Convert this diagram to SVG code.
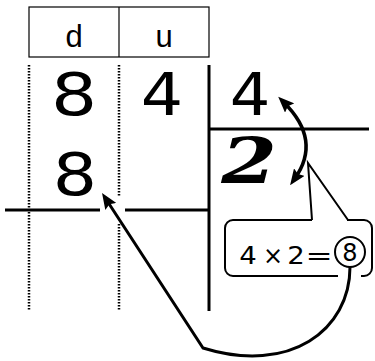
<svg xmlns="http://www.w3.org/2000/svg" width="375" height="361" viewBox="0 0 375 361">
<style>
.ln{stroke:#000;stroke-width:3;fill:none}
.thin{stroke:#000;stroke-width:1.2;fill:none}
.dot{stroke:#000;stroke-width:2.5;stroke-dasharray:1.5 1.5;fill:none}
.hd{font-family:"Liberation Sans",Arial,sans-serif;font-size:31px;text-anchor:middle}
.big{font-family:"DejaVu Sans",sans-serif;font-size:58px;text-anchor:middle}
.sm{font-family:"DejaVu Sans",sans-serif;font-size:24px;text-anchor:middle}
.arr{stroke:#000;stroke-width:3;fill:none}
</style>
<defs>
<marker id="ah" viewBox="0 0 16 13" refX="8" refY="6.5" markerWidth="16" markerHeight="13" markerUnits="userSpaceOnUse" orient="auto-start-reverse">
<path d="M0,0 L16,6.5 L0,13 L2.5,6.5 z" fill="#000"/>
</marker>
</defs>
<g id="header">
<rect x="29" y="7" width="180" height="50" class="thin"/>
<line x1="119" y1="7" x2="119" y2="57" class="thin"/>
<text x="74" y="47" class="hd">d</text>
<text x="164" y="47" class="hd">u</text>
</g>
<g id="grid">
<line x1="29" y1="65" x2="29" y2="310" class="dot"/>
<line x1="119" y1="65" x2="119" y2="310" class="dot"/>
<line x1="209" y1="65" x2="209" y2="311" class="ln"/>
<line x1="209" y1="129" x2="369" y2="129" class="ln"/>
<line x1="5" y1="210" x2="209" y2="210" class="ln"/>
<rect x="100" y="196" width="25" height="28" fill="#fff"/>
</g>
<g id="dividend">
<text class="big" transform="translate(74,115) scale(1.25,1)">8</text>
<text class="big" transform="translate(162,115) scale(1.15,1)">4</text>
</g>
<g id="divisor">
<text class="big" transform="translate(250,115) scale(1.1,1)">4</text>
</g>
<g id="quotient">
<text transform="translate(249,183) scale(1.25,1)" style="font-family:'DejaVu Serif',serif;font-weight:bold;font-style:italic;font-size:64px;text-anchor:middle">2</text>
</g>
<g id="product">
<text class="big" transform="translate(75,195) scale(1.2,1)">8</text>
</g>
<g id="callout">
<path d="M312,220 H233 A8,8 0 0 0 225,228 V268 A8,8 0 0 0 233,276 H338" style="stroke:#000;stroke-width:2;fill:none"/>
<path d="M347,220 H364 A8,8 0 0 1 372,228 V268 A8,8 0 0 1 364,276 H361" style="stroke:#000;stroke-width:2;fill:none"/>
<path d="M312,220 L308,163 L348,220" style="stroke:#000;stroke-width:2;fill:none"/>
<text class="sm" transform="translate(248,264) scale(1.15,1)">4</text>
<text class="sm" x="273" y="264">×</text>
<text class="sm" transform="translate(296,264) scale(1.15,1)">2</text>
<text class="sm" transform="translate(319,264) scale(1.35,1)">=</text>
<circle cx="350" cy="252" r="15" style="stroke:#000;stroke-width:2;fill:#fff"/>
<text class="sm" x="350" y="261">8</text>
</g>
<g id="connectors">
<path d="M283.9,102.4 Q322,140 294.7,178.6" class="arr" style="stroke-width:3.5" marker-start="url(#ah)" marker-end="url(#ah)"/>
<path d="M350,267 C350,330 290,375 203,348 L106.4,199.7" class="arr" marker-end="url(#ah)"/>
</g>
</svg>
